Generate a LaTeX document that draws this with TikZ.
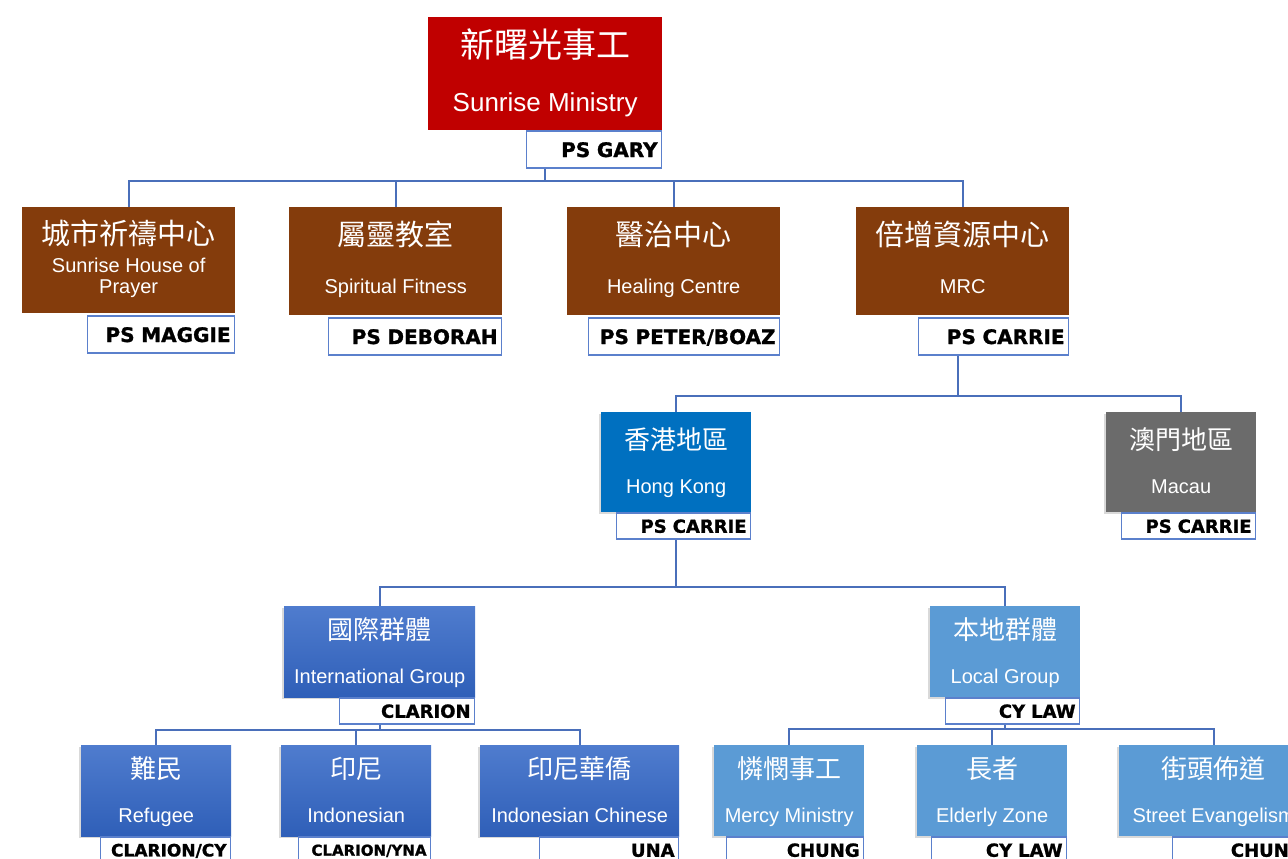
\documentclass[tikz,border=0pt]{standalone}
\usepackage{fontspec}
\setmainfont{Liberation Sans}
\newfontfamily\cjk{Noto Sans CJK TC}
\newfontfamily\lblfont{DejaVu Sans}[BoldFeatures={FakeBold=1.2}]
\usetikzlibrary{calc, shadows}

\definecolor{sunred}{HTML}{C00000}
\definecolor{mbrown}{HTML}{843C0C}
\definecolor{hkblue}{HTML}{0070C0}
\definecolor{mgray}{HTML}{6B6B6B}
\definecolor{grptop}{HTML}{4F7CCE}
\definecolor{grpbot}{HTML}{2F5FB8}
\definecolor{lclblue}{HTML}{5B9BD5}
\definecolor{lblblue}{HTML}{5B80CC}
\definecolor{linkblue}{HTML}{4A6FBA}

% Chinese line of a box: size, text
\newcommand{\zh}[2]{{\cjk\fontsize{#1}{#1}\selectfont #2}}

\begin{document}
\begin{tikzpicture}[x=1pt, y=-1pt,
    box/.style={rectangle, inner sep=0pt, anchor=north west, text=white, align=center},
    topbox/.style={box, fill=sunred, minimum width=234pt, text height=94pt, text depth=19pt,
        font=\fontsize{26}{54}\selectfont},
    ministry/.style={box, fill=mbrown, minimum width=213pt, text height=86pt, text depth=22pt,
        font=\fontsize{20}{48}\selectfont},
    softshadow/.style={drop shadow={shadow xshift=-2pt, shadow yshift=-2pt, opacity=0.3}},
    region/.style={box, softshadow, minimum width=150pt, text height=81pt, text depth=19pt,
        font=\fontsize{20}{44}\selectfont},
    group/.style={box, softshadow, minimum width=150pt, text height=77pt, text depth=14pt,
        font=\fontsize{20}{44}\selectfont},
    intlfill/.style={top color=grptop, bottom color=grpbot},
    lead/.style={rectangle, draw=lblblue, line width=1.6pt, fill=white, inner sep=0pt,
        inner xsep=4pt, anchor=north east, align=right, text depth=0pt},
    leadA/.style={lead, text width=#1, minimum height=37pt, text height=14.6pt,
        font=\lblfont\bfseries\fontsize{20}{20}\selectfont},
    leadB/.style={lead, text width=#1, minimum height=26pt, text height=13.1pt,
        font=\lblfont\bfseries\fontsize{18}{18}\selectfont},
    link/.style={draw=linkblue, line width=1.8pt}
]

    % --- Frame ---
    \useasboundingbox (0,0) rectangle (1288,859);
    \clip (0,0) rectangle (1288,859);

    % --- Top ---
    \node[topbox] (sunrise) at (428,17) {\zh{34}{新曙光事工}\\Sunrise Ministry};
    \node[leadA=127pt] (garyL) at (sunrise.south east) {PS GARY};

    % --- Ministries ---
    \node[ministry, minimum height=106pt, text depth=20pt] (prayer) at (22,207)
        {\zh{29}{城市祈禱中心}\\[-20pt]Sunrise House of\\[-27pt]Prayer};
    \node[ministry] (fitness) at (289,207) {\zh{29}{屬靈教室}\\Spiritual Fitness};
    \node[ministry] (healing) at (567,207) {\zh{29}{醫治中心}\\Healing Centre};
    \node[ministry] (mrc) at (856,207) {\zh{29}{倍增資源中心}\\MRC};

    \node[leadA=139pt] (maggieL) at ($(prayer.south east)+(0,2)$) {PS MAGGIE};
    \node[leadA=165pt] (deborahL) at ($(fitness.south east)+(0,2)$) {PS DEBORAH};
    \node[leadA=183pt] (peterL) at ($(healing.south east)+(0,2)$) {PS PETER/BOAZ};
    \node[leadA=142pt] (carrieL) at ($(mrc.south east)+(0,2)$) {PS CARRIE};

    % --- Regions ---
    \node[region, fill=hkblue] (hk) at (601,412) {\zh{26}{香港地區}\\Hong Kong};
    \node[region, fill=mgray] (macau) at (1106,412) {\zh{26}{澳門地區}\\Macau};
    \node[leadB=126pt] (hkL) at (hk.south east) {PS CARRIE};
    \node[leadB=126pt] (macauL) at (macau.south east) {PS CARRIE};

    % --- Groups ---
    \node[group, intlfill, minimum width=191pt] (intl) at (284,606)
        {\zh{26}{國際群體}\\International Group};
    \node[group, fill=lclblue] (local) at (930,606) {\zh{26}{本地群體}\\Local Group};
    \node[leadB=127pt] (intlL) at (intl.south east) {CLARION};
    \node[leadB=126pt] (localL) at (local.south east) {CY LAW};

    % --- Teams ---
    \node[group, intlfill] (refugee) at (81,745) {\zh{26}{難民}\\Refugee};
    \node[group, intlfill] (indo) at (281,745) {\zh{26}{印尼}\\Indonesian};
    \node[group, intlfill, minimum width=199pt] (indochi) at (480,745)
        {\zh{26}{印尼華僑}\\Indonesian Chinese};
    \node[group, fill=lclblue] (mercy) at (714,745) {\zh{26}{憐憫事工}\\Mercy Ministry};
    \node[group, fill=lclblue] (elderly) at (917,745) {\zh{26}{長者}\\Elderly Zone};
    \node[group, fill=lclblue, minimum width=189pt] (street) at (1119,745)
        {\zh{26}{街頭佈道}\\Street Evangelism};

    \node[leadB=122pt, font=\lblfont\bfseries\fontsize{17}{17}\selectfont, text height=12.4pt]
        (refugeeL) at (refugee.south east) {CLARION/CY};
    \node[leadB=124pt, font=\lblfont\bfseries\fontsize{15}{15}\selectfont, text height=11pt]
        (indoL) at (indo.south east) {CLARION/YNA};
    \node[leadB=131pt] (indochiL) at (indochi.south east) {UNA};
    \node[leadB=129pt] (mercyL) at (mercy.south east) {CHUNG};
    \node[leadB=127pt] (elderlyL) at (elderly.south east) {CY LAW};
    \node[leadB=127pt] (streetL) at (street.south east) {CHUNG};

    % --- Connectors ---
    \foreach \c in {prayer, fitness, healing, mrc}
        \draw[link] (sunrise.south |- garyL.south) -- ++(0,12) -| (\c.north);
    \foreach \c in {hk, macau}
        \draw[link] ($(mrc.south |- carrieL.south)+(-5,0)$) -- ++(0,40) -| (\c.north);
    \foreach \c in {intl, local}
        \draw[link] (hk.south |- hkL.south) -- ++(0,47) -| (\c.north);
    \foreach \c in {refugee, indo, indochi}
        \draw[link] (intl.south |- intlL.south) -- ++(0,5) -| (\c.north);
    \foreach \c in {mercy, elderly, street}
        \draw[link] (local.south |- localL.south) -- ++(0,4) -| (\c.north);

\end{tikzpicture}
\end{document}
